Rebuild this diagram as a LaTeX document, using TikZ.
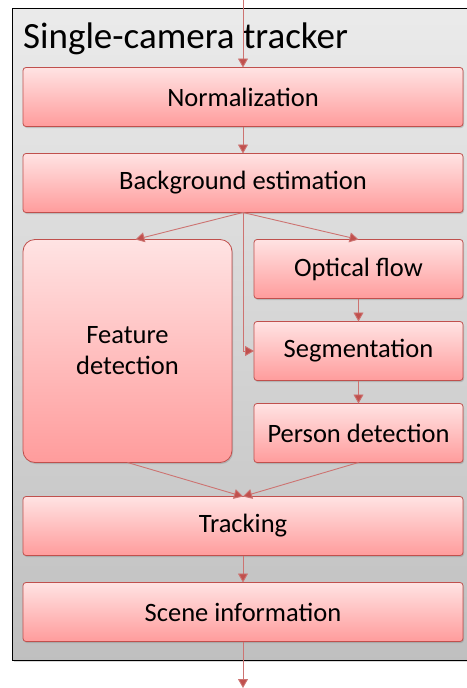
\documentclass[tikz,border=0pt]{standalone}
\usepackage{fontspec}
\setmainfont{Carlito}
\usepackage{tikz}
\usetikzlibrary{positioning,shadows,arrows.meta}

\definecolor{stageline}{HTML}{C0504D}
\definecolor{stagetop}{HTML}{FFE3E3}
\definecolor{stagebot}{HTML}{FF9C9C}

\begin{document}
\begin{tikzpicture}[
		x=1pt, y=-1pt
		,stage/.style={draw=stageline, line width=0.8pt, rounded corners=3pt, top color=stagetop, bottom color=stagebot, minimum height=59pt, inner sep=0pt, outer sep=0pt, font=\fontsize{26.5}{31}\selectfont, drop shadow={shadow xshift=1pt, shadow yshift=-1.5pt, opacity=.35}}
		,wide/.style={stage, minimum width=440pt}
		,half/.style={stage, minimum width=209pt}
		,flow/.style={draw=stageline!80, line width=0.9pt, -{Triangle[length=9pt, width=10pt, fill=stageline]}}
		,node distance=27pt
	]
		\useasboundingbox (0,0) rectangle (466,688);
		% tracker frame
		\draw[black, line width=1pt, top color=black!8, bottom color=black!25, drop shadow={shadow xshift=2pt, shadow yshift=-2pt, opacity=.3}] (12,8) rectangle (476,660);
		\node[anchor=base west, inner sep=0pt, font=\fontsize{37}{44}\selectfont] (title) at (23,48) {Single-camera tracker};

		\node [wide] (norm) at (243,97) {Normalization};
		\node [wide, below=of norm] (bg) {Background estimation};
		\node [half, below=of bg.south west, anchor=north west, minimum height=223pt, rounded corners=12pt, align=center] (feat) {Feature\\detection};
		\node [half, below=of bg.south east, anchor=north east] (optflow) {Optical flow};
		\node [half, below=23pt of optflow] (seg) {Segmentation};
		\node [half, below=23pt of seg] (pers) {Person detection};
		\node [wide, below=34pt of feat.south west, anchor=north west] (track) {Tracking};
		\node [wide, below=of track] (scene) {Scene information};

		\coordinate (in) at (243,0);
		\coordinate (out) at (243,688);

		\draw[flow] (in) -- (norm);
		\draw[flow] (norm) -- (bg);
		\draw[flow] (bg.south) -- ([xshift=8pt]feat.north);
		\draw[flow] (bg.south) -- (optflow.north);
		\draw[flow] (bg.south) |- (seg.west);
		\draw[flow] (optflow) -- (seg);
		\draw[flow] (seg) -- (pers);
		\draw[flow] (feat.south) -- (track.north);
		\draw[flow] (pers.south) -- (track.north);
		\draw[flow] (track) -- (scene);
		\draw[flow] (scene) -- (out);
	\end{tikzpicture}
\end{document}
